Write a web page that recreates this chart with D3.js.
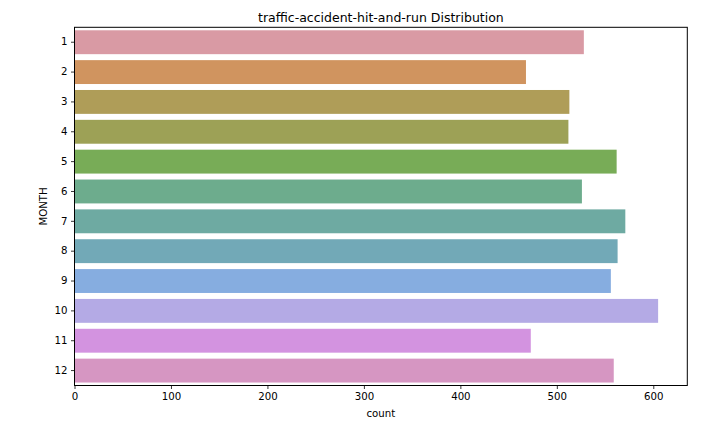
<!DOCTYPE html>
<html><head><meta charset="utf-8">
<script src="https://cdn.jsdelivr.net/npm/d3@7"></script>
<style>body{margin:0;background:#fff}svg{font-family:"DejaVu Sans",sans-serif}</style>
</head><body><svg id="c" width="709" height="423"></svg>
<script>
const months = ["1","2","3","4","5","6","7","8","9","10","11","12"];
const counts = [528, 468, 513, 512, 562, 526, 571, 563, 556, 605, 473, 559];
const colors = ["#d99aa4","#d0945f","#af9d58","#9da156","#78ac57","#6dac8d","#6eaaa2","#72a9b7","#86ade0","#b4aae5","#d393e0","#d696c2"];
const xTicks = [0,100,200,300,400,500,600];

const svg = d3.select("#c");
const m = {l:74.5, r:687.3, t:27.3, b:385.5};
const x = d3.scaleLinear().domain([0, d3.max(counts)*1.05]).range([m.l, m.r]);
const y = d3.scaleBand().domain(months).range([m.t, m.b]).paddingInner(0.2).paddingOuter(0.1);

svg.selectAll("rect.bar").data(months).join("rect").attr("class","bar")
  .attr("x", x(0)).attr("y", d=>y(d))
  .attr("width", (d,i)=>x(counts[i])-x(0)).attr("height", y.bandwidth())
  .attr("fill", (d,i)=>colors[i]);

const ax = svg.append("g").attr("transform",`translate(0,${m.b})`)
  .call(d3.axisBottom(x).tickValues(xTicks).tickSize(3.5).tickPadding(3.5));
const ay = svg.append("g").attr("transform",`translate(${m.l},0)`)
  .call(d3.axisLeft(y).tickSize(3.5).tickPadding(3.5));
[ax,ay].forEach(a=>{a.select(".domain").remove();a.selectAll("text").attr("font-size",10.2).attr("fill","#000").attr("font-family","DejaVu Sans");a.selectAll("line").attr("stroke","#000").attr("stroke-width",0.8);});

svg.append("rect").attr("x",m.l).attr("y",m.t).attr("width",m.r-m.l).attr("height",m.b-m.t)
  .attr("fill","none").attr("stroke","#000").attr("stroke-width",1);

svg.append("text").attr("x",(m.l+m.r)/2).attr("y",22).attr("text-anchor","middle")
  .attr("font-size",12.5).text("traffic-accident-hit-and-run Distribution");
svg.append("text").attr("x",(m.l+m.r)/2).attr("y",417).attr("text-anchor","middle")
  .attr("font-size",10.2).text("count");
svg.append("text").attr("transform",`translate(47,${(m.t+m.b)/2}) rotate(-90)`).attr("text-anchor","middle")
  .attr("font-size",10.2).text("MONTH");
</script></body></html>
